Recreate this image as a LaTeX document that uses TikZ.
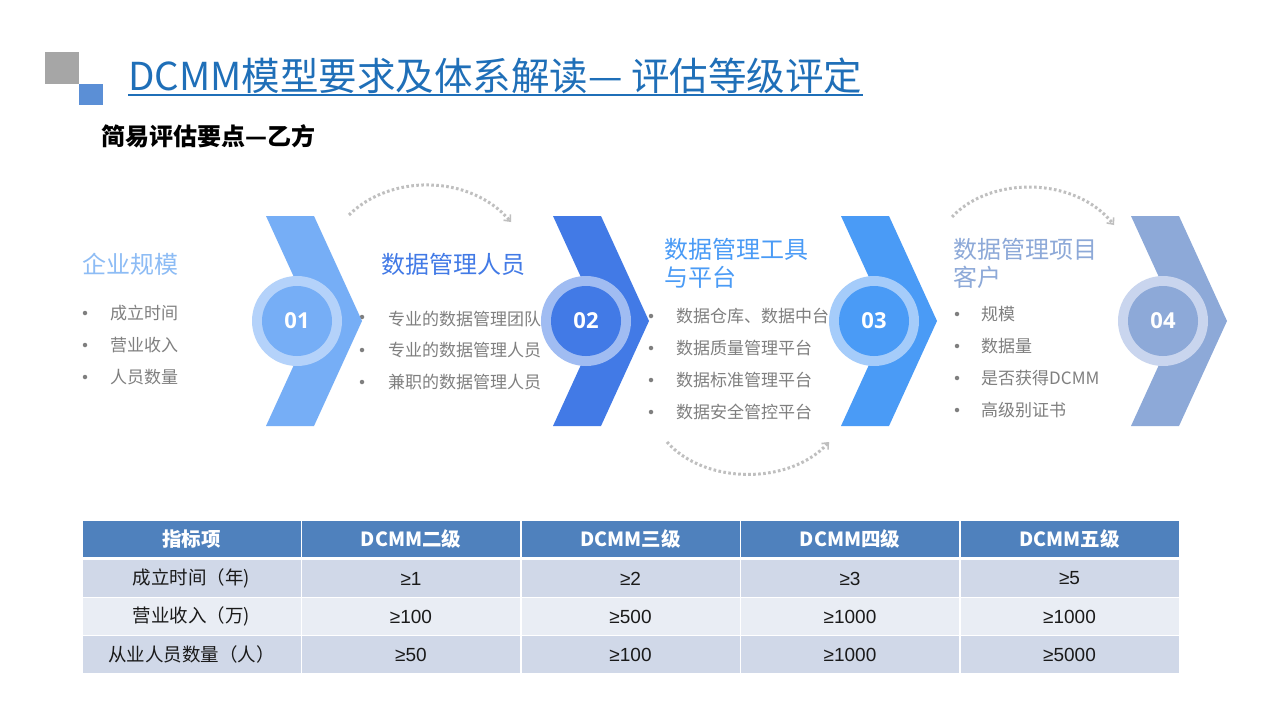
\documentclass[tikz,border=0pt]{standalone}
\usepackage{fontspec}
\setmainfont{Noto Sans CJK SC}
\newfontfamily\numfont{Open Sans}
\newfontfamily\valfont{Liberation Sans}
\usetikzlibrary{arrows.meta}
\definecolor{sqgray}{HTML}{A6A6A6}
\definecolor{sqblue}{HTML}{5B8FD6}
\definecolor{titleblue}{HTML}{1F6FB8}
\definecolor{cA}{HTML}{76AEF6}
\definecolor{rA}{HTML}{B4D2FA}
\definecolor{cB}{HTML}{427AE6}
\definecolor{rB}{HTML}{A0BCF2}
\definecolor{cC}{HTML}{4A9BF6}
\definecolor{rC}{HTML}{A5CCFA}
\definecolor{cD}{HTML}{8DA9D8}
\definecolor{rD}{HTML}{C9D5EE}
\definecolor{hA}{HTML}{8DBCF5}
\definecolor{txtgray}{HTML}{7F7F7F}
\definecolor{arcgray}{HTML}{BFBFBF}
\definecolor{thead}{HTML}{4F81BD}
\definecolor{rowA}{HTML}{D0D8E8}
\definecolor{rowB}{HTML}{E9EDF4}
\definecolor{tabtxt}{HTML}{1A1A1A}
\begin{document}
\begin{tikzpicture}[x=1pt,y=-1pt,
  heading/.style={anchor=west, inner sep=0, font=\fontsize{24}{28}\selectfont, align=left},
  item/.style={anchor=west, inner sep=0, text=txtgray, font=\fontsize{17}{20}\selectfont},
  dot/.style={circle, fill=txtgray, inner sep=0, minimum size=4.5pt},
  ring/.style={circle, inner sep=0, minimum size=90pt},
  core/.style={circle, inner sep=0, minimum size=70pt, text=white, font=\numfont\bfseries\fontsize{22}{24}\selectfont},
  arcline/.style={arcgray, line width=3pt, dash pattern=on 2.6pt off 2.4pt, -{Straight Barb[length=5pt,width=9pt,line width=1.6pt]}},
  cell/.style={draw=white, line width=1.4pt, minimum width=219.4pt, minimum height=38pt, inner sep=0, text=tabtxt, font=\fontsize{18.5}{20}\selectfont},
  vcell/.style={cell, font=\valfont\fontsize{19}{20}\selectfont},
  hcell/.style={cell, fill=thead, minimum height=37pt, text=white, font=\bfseries\fontsize{19.5}{22}\selectfont}
]
\useasboundingbox[fill=white] (0,0) rectangle (1280,720);

% decorative squares
\fill[sqgray] (45,52) rectangle (79,84);
\fill[sqblue] (79,84) rectangle (103,105);

% title
\node[anchor=base west, inner sep=0, text=titleblue, font=\fontsize{38.5}{42}\selectfont] (title) at (128,90) {DCMM模型要求及体系解读— 评估等级评定};
\draw[titleblue, line width=1.6pt] ([yshift=-5pt]title.base west) -- ([yshift=-5pt]title.base east);

% subtitle
\node[anchor=west, inner sep=0, font=\bfseries\fontsize{24}{28}\selectfont] (sub) at (101,136) {简易评估要点—乙方};

% texts (drawn under chevrons/circles)
\node[heading, text=hA] (h1) at (82,264) {企业规模};
\node[item] (t11) at (110,313) {成立时间};
\node[item] (t12) at (110,345) {营业收入};
\node[item] (t13) at (110,377) {人员数量};
\node[dot] (d11) at (85,313) {};
\node[dot] (d12) at (85,345) {};
\node[dot] (d13) at (85,377) {};

\node[heading, text=cB] (h2) at (381,264) {数据管理人员};
\node[item] (t21) at (388,319) {专业的数据管理团队};
\node[item] (t22) at (388,350) {专业的数据管理人员};
\node[item] (t23) at (388,382) {兼职的数据管理人员};
\node[dot] (d21) at (362,317) {};
\node[dot] (d22) at (362,350) {};
\node[dot] (d23) at (362,382) {};

\node[heading, text=cC] (h3) at (664,263) {数据管理工具\\与平台};
\node[item] (t31) at (676,316) {数据仓库、数据中台};
\node[item] (t32) at (676,348) {数据质量管理平台};
\node[item] (t33) at (676,380) {数据标准管理平台};
\node[item] (t34) at (676,412) {数据安全管控平台};
\node[dot] (d31) at (651,316) {};
\node[dot] (d32) at (651,348) {};
\node[dot] (d33) at (651,380) {};
\node[dot] (d34) at (651,412) {};

\node[heading, text=cD] (h4) at (953,263) {数据管理项目\\客户};
\node[item] (t41) at (981,314) {规模};
\node[item] (t42) at (981,346) {数据量};
\node[item] (t43) at (981,378) {是否获得DCMM};
\node[item] (t44) at (981,410) {高级别证书};
\node[dot] (d41) at (957,314) {};
\node[dot] (d42) at (957,346) {};
\node[dot] (d43) at (957,378) {};
\node[dot] (d44) at (957,410) {};

% chevrons
\fill[cA] (266,216) -- (314,216) -- (362,321) -- (314,426) -- (266,426) -- (314,321) -- cycle;
\fill[cB] (553,216) -- (601,216) -- (649,321) -- (601,426) -- (553,426) -- (601,321) -- cycle;
\fill[cC] (841,216) -- (889,216) -- (937,321) -- (889,426) -- (841,426) -- (889,321) -- cycle;
\fill[cD] (1131,216) -- (1179,216) -- (1227,321) -- (1179,426) -- (1131,426) -- (1179,321) -- cycle;

% circles
\node[ring, fill=rA] (r1) at (297,321) {};
\node[core, fill=cA] (n1) at (r1) {01};
\node[ring, fill=rB] (r2) at (586,321) {};
\node[core, fill=cB] (n2) at (r2) {02};
\node[ring, fill=rC] (r3) at (874,321) {};
\node[core, fill=cC] (n3) at (r3) {03};
\node[ring, fill=rD] (r4) at (1163,321) {};
\node[core, fill=cD] (n4) at (r4) {04};

% dotted arcs
\coordinate (a1s) at (349,215);
\coordinate (a1e) at (511,222);
\draw[arcline] (a1s) .. controls (390,174) and (470,174) .. (a1e);
\coordinate (a2s) at (667,442);
\coordinate (a2e) at (829,442);
\draw[arcline] (a2s) .. controls (705,485) and (790,485) .. (a2e);
\coordinate (a3s) at (952,217);
\coordinate (a3e) at (1114,225);
\draw[arcline] (a3s) .. controls (990,176) and (1075,176) .. (a3e);

% table
\node[hcell] (c00) at (191.5,539) {指标项};
\node[hcell] (c01) at (411,539) {DCMM二级};
\node[hcell] (c02) at (630.5,539) {DCMM三级};
\node[hcell] (c03) at (850,539) {DCMM四级};
\node[hcell] (c04) at (1069.5,539) {DCMM五级};

\node[cell, fill=rowA] (c10) at (191.5,578.5) {成立时间（年)};
\node[vcell, fill=rowA] (c11) at (411,578.5) {≥1};
\node[vcell, fill=rowA] (c12) at (630.5,578.5) {≥2};
\node[vcell, fill=rowA] (c13) at (850,578.5) {≥3};
\node[vcell, fill=rowA] (c14) at (1069.5,578.5) {≥5};

\node[cell, fill=rowB] (c20) at (191.5,616.5) {营业收入（万)};
\node[vcell, fill=rowB] (c21) at (411,616.5) {≥100};
\node[vcell, fill=rowB] (c22) at (630.5,616.5) {≥500};
\node[vcell, fill=rowB] (c23) at (850,616.5) {≥1000};
\node[vcell, fill=rowB] (c24) at (1069.5,616.5) {≥1000};

\node[cell, fill=rowA] (c30) at (191.5,654.5) {从业人员数量（人）};
\node[vcell, fill=rowA] (c31) at (411,654.5) {≥50};
\node[vcell, fill=rowA] (c32) at (630.5,654.5) {≥100};
\node[vcell, fill=rowA] (c33) at (850,654.5) {≥1000};
\node[vcell, fill=rowA] (c34) at (1069.5,654.5) {≥5000};

\draw[white, line width=3pt] (c00.south west) -- (c04.south east);
\end{tikzpicture}
\end{document}
